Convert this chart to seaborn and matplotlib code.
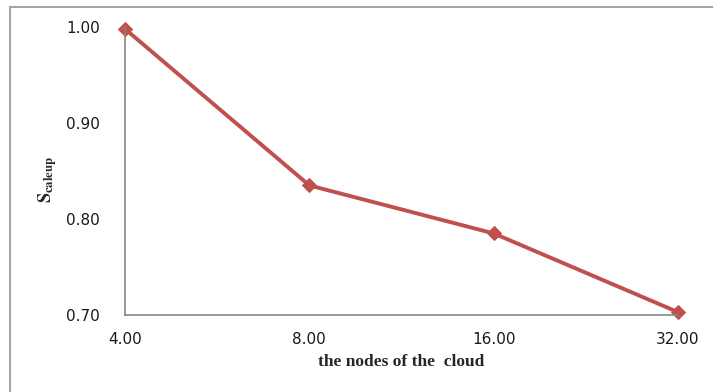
import seaborn as sns
import matplotlib.pyplot as plt
import matplotlib.patches as mpatches
import pandas as pd

# Data
nodes = ['4.00', '8.00', '16.00', '32.00']
scaleup = [0.998, 0.835, 0.785, 0.703]
y_ticks = [0.70, 0.80, 0.90, 1.00]

data = pd.DataFrame({'Nodes': nodes, 'Scaleup': scaleup})

sns.set_style('white')
fig = plt.figure(figsize=(7.13, 3.92), dpi=100)
ax = fig.add_axes([125 / 713, 1 - 315 / 392, (678 - 125) / 713, (315 - 27) / 392])

# Plot
sns.lineplot(x='Nodes', y='Scaleup', data=data, ax=ax, color='#C0504D',
             linewidth=2.8, marker='D', markersize=7, markeredgecolor='#C0504D',
             clip_on=False, sort=False)

ax.set_xlim(0, len(nodes) - 1)
ax.set_ylim(0.70, 1.00)
ax.set_yticks(y_ticks)
ax.set_yticklabels([f'{v:.2f}' for v in y_ticks])

# Axes styling
for side in ['top', 'right']:
    ax.spines[side].set_visible(False)
for side in ['left', 'bottom']:
    ax.spines[side].set_color('#868686')
    ax.spines[side].set_linewidth(1.2)
ax.tick_params(axis='both', which='major', direction='out', length=6, width=1,
               color='#868686', labelsize=11, labelcolor='#1a1a1a')
ax.tick_params(axis='x', pad=6)
ax.tick_params(axis='y', pad=11, length=7)

# Labels
ax.set_xlabel('the nodes of the  cloud', family='Liberation Serif',
              fontweight='bold', fontsize=12.5, labelpad=5)
ax.set_ylabel('')
fig.text(48 / 713, 1 - 180 / 392, r'$\mathbf{S}_{\mathbf{caleup}}$', rotation=90,
         ha='center', va='center', fontsize=13, math_fontfamily='stix')

# Chart frame
fig.patches.append(mpatches.Rectangle((10 / 713, -0.1), 1.2, 1.1 - 7 / 392,
                                      transform=fig.transFigure, fill=False,
                                      edgecolor='#A6A6A6', linewidth=1.5))

plt.savefig('out.png', dpi=100)
